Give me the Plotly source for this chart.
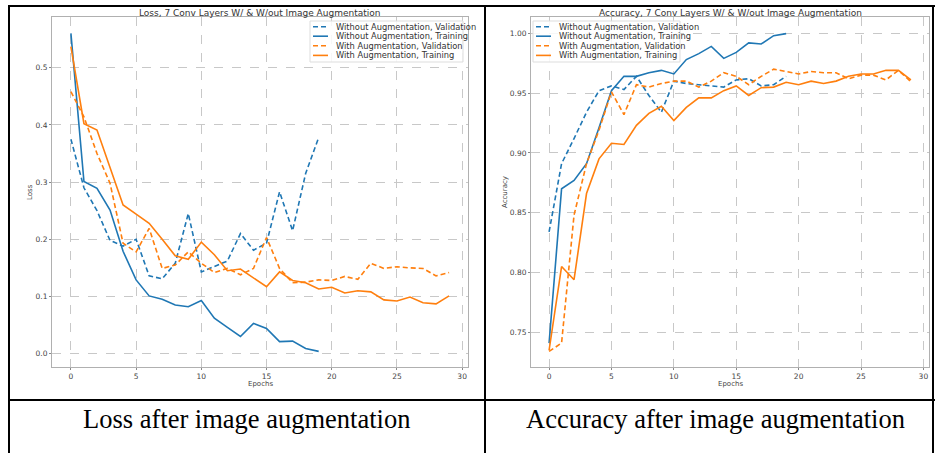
import plotly.graph_objects as go

W, H = 935, 453

# ---------------- data ----------------
epochs_no_aug = list(range(20))
epochs_aug = list(range(30))

loss_val_no_aug = [0.375, 0.290, 0.250, 0.198, 0.188, 0.200, 0.136, 0.131, 0.158, 0.245,
                   0.143, 0.152, 0.162, 0.210, 0.181, 0.193, 0.283, 0.215, 0.315, 0.378]
loss_train_no_aug = [0.560, 0.301, 0.289, 0.251, 0.179, 0.129, 0.101, 0.095, 0.085, 0.082,
                     0.093, 0.062, 0.046, 0.030, 0.053, 0.044, 0.021, 0.022, 0.009, 0.004]
loss_val_aug = [0.458, 0.414, 0.350, 0.298, 0.193, 0.178, 0.219, 0.149, 0.155, 0.178,
                0.158, 0.142, 0.149, 0.138, 0.149, 0.203, 0.149, 0.124, 0.125, 0.129,
                0.128, 0.135, 0.130, 0.158, 0.149, 0.152, 0.150, 0.149, 0.136, 0.142]
loss_train_aug = [0.537, 0.402, 0.391, 0.325, 0.260, 0.244, 0.228, 0.200, 0.171, 0.165,
                  0.195, 0.173, 0.145, 0.148, 0.132, 0.117, 0.143, 0.128, 0.124, 0.113,
                  0.116, 0.106, 0.110, 0.108, 0.094, 0.092, 0.099, 0.089, 0.087, 0.101]

acc_val_no_aug = [0.834, 0.891, 0.912, 0.934, 0.952, 0.956, 0.953, 0.964, 0.948, 0.934,
                  0.960, 0.958, 0.957, 0.956, 0.955, 0.961, 0.962, 0.956, 0.957, 0.964]
acc_train_no_aug = [0.741, 0.870, 0.877, 0.891, 0.921, 0.952, 0.964, 0.964, 0.967, 0.969,
                    0.966, 0.978, 0.983, 0.989, 0.979, 0.984, 0.992, 0.991, 0.998, 0.9997]
acc_val_aug = [0.734, 0.741, 0.848, 0.891, 0.919, 0.951, 0.932, 0.957, 0.955, 0.958,
               0.960, 0.960, 0.955, 0.960, 0.967, 0.964, 0.957, 0.964, 0.970, 0.968,
               0.966, 0.968, 0.967, 0.967, 0.962, 0.965, 0.965, 0.961, 0.969, 0.9595]
acc_train_aug = [0.735, 0.805, 0.794, 0.866, 0.895, 0.908, 0.907, 0.923, 0.933, 0.939,
                 0.927, 0.938, 0.946, 0.946, 0.952, 0.956, 0.948, 0.9545, 0.955, 0.959,
                 0.957, 0.960, 0.958, 0.960, 0.964, 0.966, 0.966, 0.969, 0.969, 0.961]

series_names = ["Without Augmentation, Validation", "Without Augmentation, Training",
                "With Augmentation, Validation", "With Augmentation, Training"]
x_ticks = [0, 5, 10, 15, 20, 25, 30]
loss_ticks = [0.0, 0.1, 0.2, 0.3, 0.4, 0.5]
acc_ticks = [0.75, 0.80, 0.85, 0.90, 0.95, 1.00]

titles = ["Loss, 7 Conv Layers W/ & W/out Image Augmentation",
          "Accuracy, 7 Conv Layers W/ & W/out Image Augmentation"]
captions = ["Loss after image augmentation", "Accuracy after image augmentation"]

BLUE = "#1f77b4"
ORANGE = "#ff7f0e"
DASH = "5px,3px"


def px(x):
    return x / W


def py(y):
    return 1 - y / H


fig = go.Figure()

styles = [(BLUE, DASH), (BLUE, "solid"), (ORANGE, DASH), (ORANGE, "solid")]

loss_series = [(epochs_no_aug, loss_val_no_aug), (epochs_no_aug, loss_train_no_aug),
               (epochs_aug, loss_val_aug), (epochs_aug, loss_train_aug)]
acc_series = [(epochs_no_aug, acc_val_no_aug), (epochs_no_aug, acc_train_no_aug),
              (epochs_aug, acc_val_aug), (epochs_aug, acc_train_aug)]

for (xs, ys), name, (c, d) in zip(loss_series, series_names, styles):
    fig.add_trace(go.Scatter(x=xs, y=ys, name=name, mode="lines", xaxis="x", yaxis="y",
                             line=dict(color=c, width=1.6, dash=d), showlegend=False))
for (xs, ys), name, (c, d) in zip(acc_series, series_names, styles):
    fig.add_trace(go.Scatter(x=xs, y=ys, name=name, mode="lines", xaxis="x2", yaxis="y2",
                             line=dict(color=c, width=1.6, dash=d), showlegend=False))

tickfont = dict(family="DejaVu Sans", size=7.5, color="#444")
axis_common = dict(showline=True, mirror=True, linecolor="#b0b0b0", linewidth=1,
                   showgrid=True, gridcolor="#c8c8c8", griddash="dash", gridwidth=1,
                   ticks="outside", ticklen=2, tickcolor="#888", tickfont=tickfont,
                   zeroline=False)

ydom = [py(367), py(17)]
fig.update_layout(
    width=W, height=H, margin=dict(l=0, r=0, t=0, b=0),
    paper_bgcolor="white", plot_bgcolor="white",
    showlegend=False,
    xaxis=dict(domain=[px(52), px(468)], range=[-1.45, 30.45], tickvals=x_ticks,
               anchor="y", **axis_common),
    yaxis=dict(domain=ydom, range=[-0.0233, 0.5886], tickvals=loss_ticks,
               tickformat=".1f", anchor="x", **axis_common),
    xaxis2=dict(domain=[px(531), px(929)], range=[-1.45, 30.45], tickvals=x_ticks,
                anchor="y2", **axis_common),
    yaxis2=dict(domain=ydom, range=[0.721, 1.0136], tickvals=acc_ticks,
                tickformat=".2f", anchor="x2", **axis_common),
)

annotations = []
shapes = []
# titles
for cx, t in zip([(52 + 468) / 2, (531 + 929) / 2], titles):
    annotations.append(dict(x=px(cx), y=py(13), xref="paper", yref="paper", text=t,
                            showarrow=False, xanchor="center", yanchor="middle",
                            font=dict(family="DejaVu Sans", size=9, color="#333")))
# x axis labels
for cx in [(52 + 468) / 2, (531 + 929) / 2]:
    annotations.append(dict(x=px(cx), y=py(384), xref="paper", yref="paper", text="Epochs",
                            showarrow=False, xanchor="center", yanchor="middle",
                            font=dict(family="DejaVu Sans", size=7, color="#444")))
# y axis labels
for lx, t in [(30, "Loss"), (505, "Accuracy")]:
    annotations.append(dict(x=px(lx), y=py(192), xref="paper", yref="paper", text=t,
                            showarrow=False, xanchor="center", yanchor="middle", textangle=-90,
                            font=dict(family="DejaVu Sans", size=7, color="#444")))
# captions
for cx, t in zip([246, 715], captions):
    annotations.append(dict(x=px(cx), y=py(419), xref="paper", yref="paper", text=t,
                            showarrow=False, xanchor="center", yanchor="middle",
                            font=dict(family="Liberation Serif", size=26.5, color="black")))

# legends (matplotlib-style, compact)
legend_boxes = [(310, 463), (533, 680)]
row_y = [26.7, 36.2, 45.8, 55.4]
for bx0, bx1 in legend_boxes:
    shapes.append(dict(type="rect", xref="paper", yref="paper", layer="above",
                       x0=px(bx0), x1=px(bx1), y0=py(62), y1=py(21),
                       fillcolor="rgba(255,255,255,0.85)",
                       line=dict(color="#dddddd", width=1)))
    for ry, name, (c, d) in zip(row_y, series_names, styles):
        shapes.append(dict(type="line", xref="paper", yref="paper", layer="above",
                           x0=px(bx0 + 3), x1=px(bx0 + 18), y0=py(ry), y1=py(ry),
                           line=dict(color=c, width=1.6, dash=d)))
        annotations.append(dict(x=px(bx0 + 24), y=py(ry), xref="paper", yref="paper",
                                text=name, showarrow=False, xanchor="left", yanchor="middle",
                                font=dict(family="DejaVu Sans", size=8.3, color="#333")))

# table borders
line = dict(color="black", width=2)
shapes += [
    dict(type="line", xref="paper", yref="paper", x0=px(8), x1=px(935), y0=py(6), y1=py(6), line=line),
    dict(type="line", xref="paper", yref="paper", x0=px(8), x1=px(935), y0=py(400), y1=py(400), line=line),
    dict(type="line", xref="paper", yref="paper", x0=px(9), x1=px(9), y0=py(5), y1=py(453), line=line),
    dict(type="line", xref="paper", yref="paper", x0=px(485), x1=px(485), y0=py(5), y1=py(453), line=line),
    dict(type="line", xref="paper", yref="paper", x0=px(933), x1=px(933), y0=py(5), y1=py(453), line=line),
]
fig.update_layout(annotations=annotations, shapes=shapes)

fig.write_html("out.html")
